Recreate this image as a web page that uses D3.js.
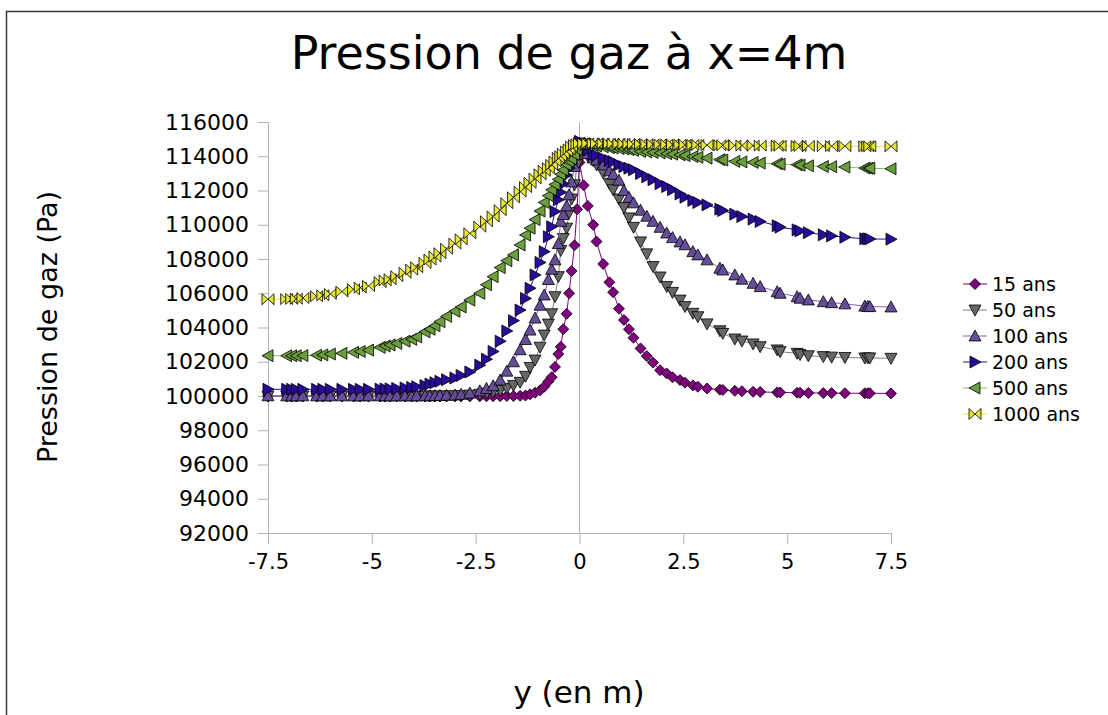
<!DOCTYPE html>
<html>
<head>
<meta charset="utf-8">
<script src="https://cdn.jsdelivr.net/npm/d3@7"></script>
<style>
  body { margin: 0; background: #fff; }
  text { font-family: "DejaVu Sans", sans-serif; }
</style>
</head>
<body>
<div id="chart"></div>
<script>
const width = 1108, height = 715;

// positions des noeuds le long de y (m)
const yPos = [
  -7.5, -7.05, -6.93, -6.82, -6.66, -6.33, -6.18, -6.0, -5.72, -5.44,
  -5.28, -5.08, -4.8, -4.68, -4.56, -4.4, -4.2, -4.04, -3.92, -3.72,
  -3.6, -3.48, -3.36, -3.2, -3.0, -2.85, -2.64, -2.4, -2.24, -2.08,
  -1.91, -1.75, -1.59, -1.43, -1.3, -1.19, -1.07, -0.95, -0.85, -0.75,
  -0.67, -0.59, -0.51, -0.45, -0.39, -0.31, -0.25, -0.19, -0.12, -0.06,
  0,
  0.1, 0.2, 0.33, 0.41, 0.57, 0.72, 0.81, 0.95, 1.07, 1.19,
  1.3, 1.47, 1.62, 1.77, 1.94, 2.1, 2.24, 2.42, 2.54, 2.73,
  2.85, 3.07, 3.38, 3.45, 3.74, 3.91, 4.18, 4.35, 4.76, 4.83,
  5.24, 5.31, 5.51, 5.87, 6.07, 6.39, 6.87, 6.94, 6.99, 7.5
];

const seriesNames = ['15 ans', '50 ans', '100 ans', '200 ans', '500 ans', '1000 ans'];

const p15 = [
  99980, 99980, 99980, 99980, 99980, 99980, 99980, 99980, 99980, 99980,
  99980, 99980, 99980, 99980, 99980, 99980, 99980, 99980, 99980, 99980,
  99980, 99980, 99980, 99980, 99980, 99980, 99980, 99980, 99980, 99985,
  99990, 100000, 100000, 100010, 100030, 100100, 100190, 100330, 100540, 100850,
  101100, 101700, 102450, 102870, 103900, 104800, 106000, 107300, 108800, 110900,
  113640,
  112300, 111100, 110000, 109020, 107710, 106640, 106060, 105100, 104440, 103900,
  103400, 102780, 102330, 101950, 101510, 101320, 101090, 100930, 100780, 100620,
  100540, 100440, 100370, 100350, 100300, 100280, 100250, 100240, 100210, 100210,
  100190, 100190, 100180, 100170, 100170, 100160, 100160, 100160, 100160, 100150
];
const p50 = [
  100000, 100000, 100000, 100000, 100000, 100000, 100000, 100000, 100000, 100000,
  100000, 100000, 100000, 100000, 100000, 100000, 100000, 100000, 100000, 100000,
  100000, 100000, 100000, 100005, 100010, 100020, 100050, 100100, 100160, 100230,
  100320, 100450, 100620, 100800, 101150, 101670, 102100, 102850, 103560, 104200,
  104800, 105800, 106970, 108500, 109200, 109800, 110700, 111500, 112330, 113500,
  114770,
  114300, 114000, 113750, 113500, 113030, 112400, 112040, 111500, 111000, 110400,
  109850, 109000, 108300, 107560, 106950, 106390, 106050, 105600, 105220, 104830,
  104630, 104210, 103810, 103660, 103330, 103210, 103040, 102880, 102690, 102590,
  102490, 102420, 102350, 102300, 102270, 102250, 102220, 102220, 102220, 102200
];
const p100 = [
  100010, 100010, 100010, 100010, 100010, 100010, 100010, 100010, 100010, 100010,
  100010, 100010, 100010, 100010, 100010, 100010, 100010, 100010, 100010, 100010,
  100010, 100020, 100030, 100040, 100060, 100100, 100170, 100300, 100440, 100600,
  100930, 101450, 102000, 102700, 103300, 103850, 104550, 105300, 105900, 106800,
  107400, 107950, 108900, 110200, 110600, 111100, 111750, 112500, 113400, 114100,
  114770,
  114500, 114150, 113900, 113780, 113500, 113150, 112950, 112600, 112000, 111600,
  111280, 110850, 110500, 110200, 109850, 109520, 109250, 109000, 108830, 108430,
  108240, 107950, 107460, 107360, 107070, 106820, 106580, 106390, 106090, 106000,
  105800, 105710, 105610, 105510, 105450, 105380, 105250, 105230, 105220, 105200
];
const p200 = [
  100390, 100390, 100390, 100390, 100390, 100390, 100390, 100390, 100390, 100390,
  100390, 100390, 100400, 100410, 100420, 100440, 100470, 100500, 100540, 100610,
  100700, 100780, 100860, 100950, 101050, 101200, 101400, 101800, 102150, 102600,
  103200, 103800, 104400, 105020, 105700, 106290, 107070, 107800, 108430, 109300,
  109890, 110770, 111460, 111900, 112400, 112900, 113300, 113600, 114000, 114400,
  114870,
  114600, 114350, 114100, 114050, 113900, 113750, 113680, 113500, 113390, 113300,
  113210, 112990, 112800, 112630, 112400, 112230, 112050, 111800, 111610, 111420,
  111300, 111160, 110910, 110830, 110620, 110480, 110330, 110190, 109940, 109860,
  109700, 109640, 109540, 109410, 109350, 109270, 109180, 109180, 109170, 109160
];
const p500 = [
  102350, 102350, 102350, 102350, 102360, 102380, 102400, 102450, 102490, 102550,
  102600, 102680, 102840, 102920, 102980, 103070, 103200, 103310, 103450, 103750,
  103900, 104100, 104340, 104650, 104950, 105200, 105600, 106000, 106500, 106970,
  107500, 107900, 108240, 108820, 109400, 109800, 110300, 110800, 111300, 111700,
  112040, 112350, 112650, 112950, 113200, 113500, 113700, 113850, 114100, 114400,
  114750,
  114700, 114650, 114620, 114600, 114550, 114500, 114480, 114450, 114420, 114380,
  114340, 114280, 114250, 114220, 114190, 114150, 114120, 114080, 114040, 113980,
  113940, 113890, 113800, 113780, 113700, 113670, 113640, 113600, 113560, 113540,
  113500, 113480, 113440, 113400, 113390, 113370, 113310, 113300, 113300, 113270
];
const p1000 = [
  105650, 105660, 105670, 105680, 105720, 105820, 105880, 105960, 106100, 106230,
  106330, 106430, 106650, 106750, 106820, 107000, 107200, 107380, 107520, 107770,
  107970, 108140, 108340, 108600, 108900, 109150, 109500, 109890, 110200, 110480,
  110850, 111260, 111600, 111940, 112200, 112450, 112700, 112950, 113150, 113300,
  113500, 113700, 113900, 114000, 114150, 114280, 114400, 114570, 114650, 114700,
  114750,
  114760, 114750, 114750, 114740, 114740, 114730, 114730, 114720, 114720, 114710,
  114710, 114700, 114700, 114690, 114690, 114680, 114680, 114670, 114670, 114660,
  114660, 114650, 114640, 114640, 114630, 114630, 114620, 114620, 114610, 114610,
  114600, 114600, 114600, 114590, 114590, 114590, 114580, 114580, 114580, 114580
];

const pressures = [p15, p50, p100, p200, p500, p1000];
const xTicks = [-7.5, -5, -2.5, 0, 2.5, 5, 7.5];
const yTicks = d3.range(92000, 116001, 2000);

const fills = ['#800080', '#666666', '#664d99', '#2a0a99', '#6b9e3b', '#e6e633'];
const strokes = ['#800080', '#808080', '#8064b4', '#2a0a99', '#8cb860', '#e6e64c'];
// marqueurs : losange, triangle bas, triangle haut, droite, gauche, noeud papillon
const markers = [
  'M0,-5.5L5.5,0L0,5.5L-5.5,0Z',
  'M-6,-5L6,-5L0,6Z',
  'M0,-6L6,5L-6,5Z',
  'M-5,-6L6,0L-5,6Z',
  'M5,-6L-6,0L5,6Z',
  'M-6,-5.5L0,0L-6,5.5ZM6,-5.5L0,0L6,5.5Z'
];

const xScale = d3.scaleLinear().domain([-7.5, 7.5]).range([268, 891]);
const yScale = d3.scaleLinear().domain([92000, 116000]).range([533, 122]);

const svg = d3.select('#chart')
  .append('svg')
    .attr('width', width)
    .attr('height', height);

// cadre
svg.append('rect')
  .attr('x', 6.5).attr('y', 11.5)
  .attr('width', width + 20).attr('height', height + 20)
  .attr('fill', '#fff')
  .attr('stroke', '#3a3a3a')
  .attr('stroke-width', 1.5);

svg.append('text')
  .text('Pression de gaz à x=4m')
  .attr('x', 569).attr('y', 69)
  .attr('text-anchor', 'middle')
  .style('font-size', '46px');

// axe y
const yAxis = svg.append('g')
  .attr('transform', `translate(${xScale(-7.5)},0)`)
  .call(d3.axisLeft(yScale).tickValues(yTicks).tickFormat(d3.format('d')).tickSize(10).tickPadding(9));

// axe x
const xAxis = svg.append('g')
  .attr('transform', `translate(0,${yScale(92000)})`)
  .call(d3.axisBottom(xScale).tickValues(xTicks).tickFormat(d => d).tickSize(11).tickPadding(10));

[yAxis, xAxis].forEach(ax => {
  ax.select('.domain').attr('stroke', '#b3b3b3');
  ax.selectAll('.tick line').attr('stroke', '#b3b3b3');
  ax.selectAll('.tick text')
    .attr('fill', '#000')
    .style('font-family', '"DejaVu Sans", sans-serif')
    .style('font-size', '21px');
});
yAxis.selectAll('.tick text').style('font-size', '22px');

// ligne x = 0
svg.append('line')
  .attr('x1', xScale(0)).attr('x2', xScale(0))
  .attr('y1', yScale(116000)).attr('y2', yScale(92000))
  .attr('stroke', '#b3b3b3');

const line = d3.line()
  .x((d, i) => xScale(yPos[i]))
  .y(d => yScale(d));

pressures.forEach((vals, s) => {
  const g = svg.append('g');
  g.append('path')
    .attr('d', line(vals))
    .attr('fill', 'none')
    .attr('stroke', strokes[s])
    .attr('stroke-width', 1);
  g.selectAll('path.pt')
    .data(vals)
    .join('path')
      .attr('class', 'pt')
      .attr('d', markers[s])
      .attr('transform', (d, i) => `translate(${xScale(yPos[i])},${yScale(d)})`)
      .attr('fill', fills[s])
      .attr('stroke', '#000')
      .attr('stroke-width', 0.8);
});

// légende
const legend = svg.append('g')
  .attr('transform', 'translate(963,284)');
seriesNames.forEach((name, s) => {
  const row = legend.append('g')
    .attr('transform', `translate(0,${s * 26})`);
  row.append('line')
    .attr('x1', 0).attr('x2', 24)
    .attr('stroke', strokes[s]);
  row.append('path')
    .attr('d', markers[s])
    .attr('transform', 'translate(12,0)')
    .attr('fill', fills[s])
    .attr('stroke', '#000')
    .attr('stroke-width', 0.8);
  row.append('text')
    .text(name)
    .attr('x', 29)
    .attr('dominant-baseline', 'central')
    .style('font-size', '19px');
});

svg.append('text')
  .text('Pression de gaz (Pa)')
  .attr('transform', 'translate(57,327) rotate(-90)')
  .attr('text-anchor', 'middle')
  .style('font-size', '27px');

svg.append('text')
  .text('y (en m)')
  .attr('x', 579).attr('y', 703)
  .attr('text-anchor', 'middle')
  .style('font-size', '31px');
</script>
</body>
</html>
